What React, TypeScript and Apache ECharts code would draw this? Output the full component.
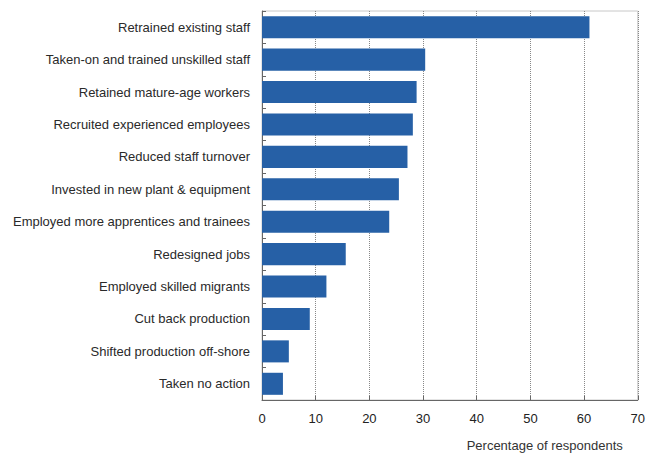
import React, { useEffect, useRef } from "react";
import * as echarts from "echarts";

const categories = [
  "Retrained existing staff",
  "Taken-on and trained unskilled staff",
  "Retained mature-age workers",
  "Recruited experienced employees",
  "Reduced staff turnover",
  "Invested in new plant & equipment",
  "Employed more apprentices and trainees",
  "Redesigned jobs",
  "Employed skilled migrants",
  "Cut back production",
  "Shifted production off-shore",
  "Taken no action",
];
const values = [61, 30.4, 28.8, 28.1, 27.1, 25.5, 23.7, 15.6, 12.0, 8.9, 5.0, 3.9];
const axisName = "Percentage of respondents";

export default function App() {
  const ref = useRef<HTMLDivElement>(null);
  useEffect(() => {
    document.body.style.margin = "0";
    const chart = echarts.init(ref.current!, null, { renderer: "svg" });
    chart.setOption({
      animation: false,
      backgroundColor: "#ffffff",
      textStyle: { fontFamily: "Liberation Sans, Arial, sans-serif" },
      grid: {
        left: 262,
        right: 10,
        top: 11,
        bottom: 54,
        show: true,
        borderColor: "#c8c8c8",
        borderWidth: 1,
      },
      xAxis: {
        type: "value",
        min: 0,
        max: 70,
        interval: 10,
        name: axisName,
        nameLocation: "end",
        nameGap: -15,
        nameTextStyle: {
          align: "right",
          verticalAlign: "top",
          fontSize: 13,
          color: "#333",
          padding: [39, 0, 0, 0],
        },
        axisLine: { show: true, lineStyle: { color: "#666", width: 1 } },
        axisTick: { show: true, inside: true, length: 4, lineStyle: { color: "#666" } },
        axisLabel: { fontSize: 13, color: "#222", margin: 12 },
        splitLine: { show: true, lineStyle: { type: "dotted", color: "#888", width: 1 } },
      },
      yAxis: {
        type: "category",
        data: categories,
        inverse: true,
        axisLine: { show: true, lineStyle: { color: "#666", width: 1 } },
        axisTick: { show: true, inside: true, length: 4, lineStyle: { color: "#666" } },
        axisLabel: { fontSize: 13, color: "#2a2a2a", margin: 12 },
      },
      series: [
        {
          type: "bar",
          data: values,
          barCategoryGap: "32%",
          itemStyle: { color: "#2660a6" },
        },
      ],
    });
    return () => chart.dispose();
  }, []);
  return <div ref={ref} style={{ width: 648, height: 454 }} />;
}
